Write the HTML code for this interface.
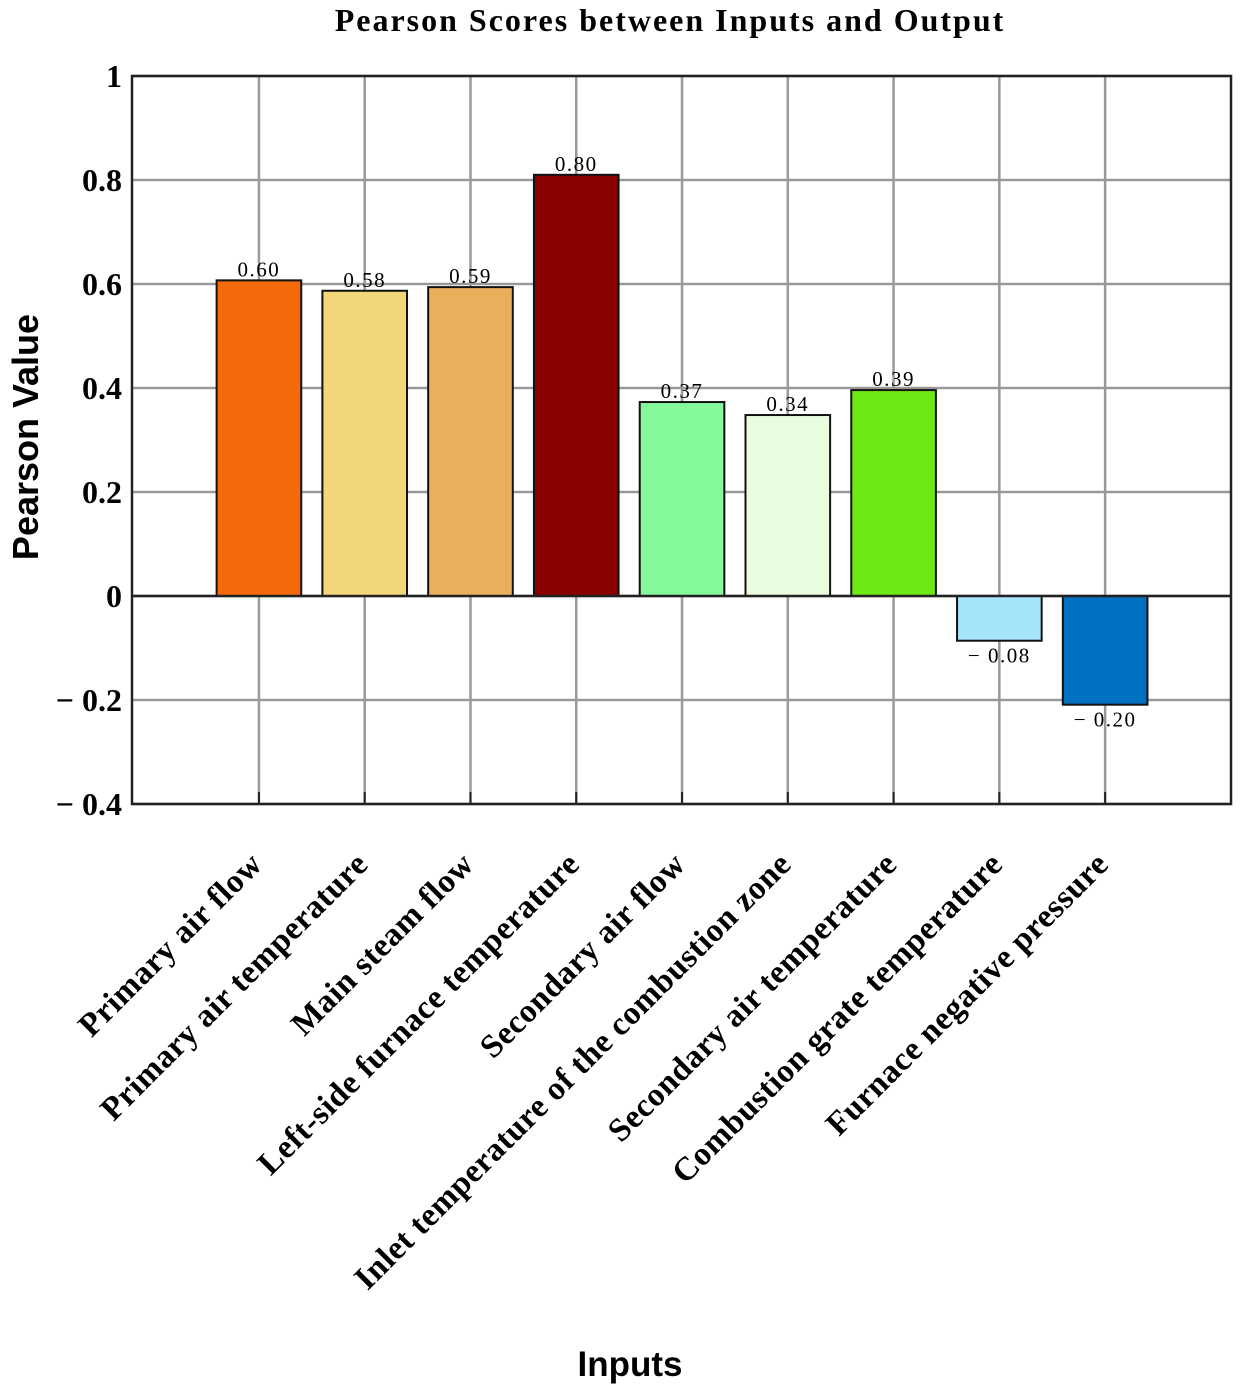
<!DOCTYPE html>
<html><head><meta charset="utf-8"><style>
html,body{margin:0;padding:0;background:#fff;}
svg{display:block;}
</style></head><body>
<svg id="chart" width="1248" height="1390" xmlns="http://www.w3.org/2000/svg">
<text x="670" y="31" text-anchor="middle" font-family="Liberation Serif, serif" font-weight="bold" font-size="32" letter-spacing="2">Pearson Scores between Inputs and Output</text>
<g id="grid"></g>
<g id="bars"></g>
<g id="axes"></g>
<text transform="translate(38,437) rotate(-90)" text-anchor="middle" font-family="Liberation Sans, sans-serif" font-weight="bold" font-size="36">Pearson Value</text>
<text x="630" y="1376" text-anchor="middle" font-family="Liberation Sans, sans-serif" font-weight="bold" font-size="35">Inputs</text>
</svg>
<script>
const categories = ["Primary air flow","Primary air temperature","Main steam flow","Left-side furnace temperature","Secondary air flow","Inlet temperature of the combustion zone","Secondary air temperature","Combustion grate temperature","Furnace negative pressure"];
const values = [0.607, 0.587, 0.594, 0.81, 0.373, 0.348, 0.396, -0.086, -0.209];
const valueLabels = ["0.60","0.58","0.59","0.80","0.37","0.34","0.39","\u2212 0.08","\u2212 0.20"];
const barColors = ["#f46a0a","#f3d67a","#ebaf5c","#8b0000","#86f89c","#e8fde0","#6de914","#a6e4fb","#0070c0"];
const yTicks = [-0.4,-0.2,0,0.2,0.4,0.6,0.8,1];
const yTickLabels = ["\u2212 0.4","\u2212 0.2","0","0.2","0.4","0.6","0.8","1"];

const NS="http://www.w3.org/2000/svg";
const L=132,R=1231,T=76,B=804;
const xMin=-0.2,xMax=10.19,yMin=-0.4,yMax=1;
const xs=i=>L+(i-xMin)/(xMax-xMin)*(R-L);
const ys=v=>B-(v-yMin)/(yMax-yMin)*(B-T);
function mk(tag,attrs,parent,text){const e=document.createElementNS(NS,tag);for(const k in attrs)e.setAttribute(k,attrs[k]);if(text!==undefined)e.textContent=text;parent.appendChild(e);return e;}
const grid=document.getElementById('grid'),bars=document.getElementById('bars'),axes=document.getElementById('axes'),svg=document.getElementById('chart');

yTicks.forEach((t,i)=>{
  const g=mk('line',{x1:L,x2:R,y1:ys(t),y2:ys(t),stroke:'#999',"stroke-width":2.5},grid);
  
  
  const lb=mk('text',{x:L-10,y:ys(t)+11,"text-anchor":"end","font-family":"Liberation Serif, serif","font-weight":"bold","font-size":32},axes,yTickLabels[i]);
  
  
});
categories.forEach((c,i)=>{
  const x=xs(i+1);
  const g=mk('line',{x1:x,x2:x,y1:T,y2:B,stroke:'#999',"stroke-width":2.5},grid);
  
  
  const v=values[i];
  const w=0.8/(xMax-xMin)*(R-L);
  const r=mk('rect',{x:x-w/2,y:Math.min(ys(v),ys(0)),width:w,height:Math.abs(ys(v)-ys(0)),fill:barColors[i],stroke:'#111',"stroke-width":2},bars);
  
  
  const vy=v>=0?ys(v)-4:ys(v)+22;
  const vl=mk('text',{x:x,y:vy,"text-anchor":"middle","font-family":"Liberation Serif, serif","font-size":21,"letter-spacing":1.5},bars,valueLabels[i]);
  
  
  const tk=mk('line',{x1:x,x2:x,y1:B,y2:B-12,stroke:'#222',"stroke-width":2},axes);
  
  
  const cl=mk('text',{transform:`translate(${x+5},${B+62}) rotate(-45)`,"text-anchor":"end","font-family":"Liberation Serif, serif","font-weight":"bold","font-size":33,"letter-spacing":0.5},svg,c);
  
  
});
const z=mk('line',{x1:L,x2:R,y1:ys(0),y2:ys(0),stroke:'#222',"stroke-width":2.5},axes);


const box=mk('rect',{x:L,y:T,width:R-L,height:B-T,fill:'none',stroke:'#222',"stroke-width":2.5},axes);


</script>
</body></html>
